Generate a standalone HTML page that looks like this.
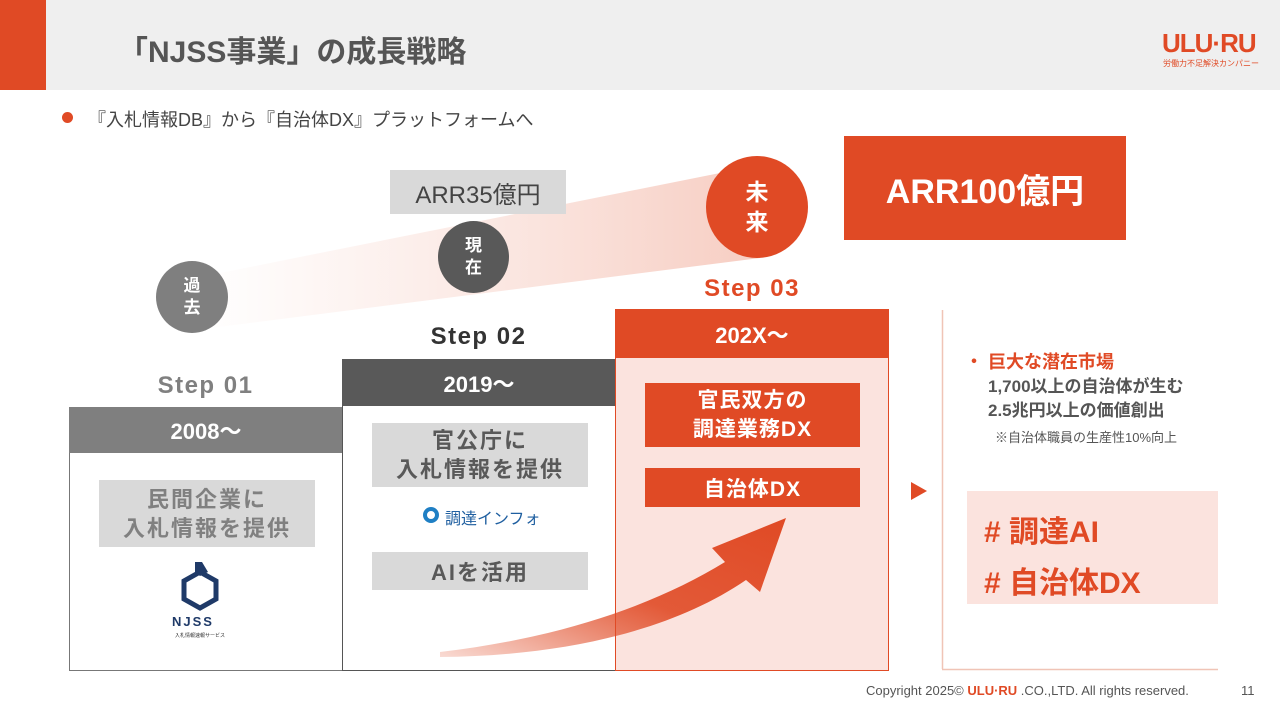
<!DOCTYPE html>
<html><head><meta charset="utf-8"><style>
*{margin:0;padding:0;box-sizing:border-box}
body{width:1280px;height:720px;position:relative;background:#fff;font-family:"Liberation Sans","Noto Sans CJK JP",sans-serif;overflow:hidden}
.a{position:absolute}
.c{display:flex;align-items:center;justify-content:center;text-align:center;font-weight:bold}
</style></head><body>
<div class="a" style="left:0;top:0;width:1280px;height:90px;background:#efefef"></div>
<div class="a" style="left:0;top:0;width:46px;height:90px;background:#e04a25"></div>
<div class="a" style="left:118px;top:27px;font-size:30px;color:#555;font-weight:bold">「NJSS事業」の成長戦略</div>
<div class="a" style="left:1162px;top:28px;font-size:26px;color:#e04a25;font-weight:900;letter-spacing:-1px">ULU·RU</div>
<div class="a" style="left:1163px;top:58px;font-size:8px;color:#e04a25">労働力不足解決カンパニー</div>
<div class="a" style="left:62px;top:112px;width:11px;height:11px;border-radius:50%;background:#e04a25"></div>
<div class="a" style="left:88px;top:106px;font-size:18px;color:#444">『入札情報DB』から『自治体DX』プラットフォームへ</div>

<svg class="a" style="left:0;top:0" width="1280" height="720">
<defs>
<linearGradient id="g1" x1="0" x2="1"><stop offset="0" stop-color="#f6c9bd" stop-opacity="0"/><stop offset="1" stop-color="#f3b8a8" stop-opacity="0.7"/></linearGradient>
<linearGradient id="g2" x1="0" x2="1" y1="1" y2="0"><stop offset="0" stop-color="#e04a25" stop-opacity="0.2"/><stop offset="0.5" stop-color="#e04a25" stop-opacity="0.9"/><stop offset="1" stop-color="#e04a25"/></linearGradient>
</defs>
<polygon points="195,278 760,165 760,258 195,330" fill="url(#g1)"/>
</svg>

<div class="a c" style="left:390px;top:170px;width:176px;height:44px;background:#d9d9d9;color:#444;font-size:24px;font-weight:normal">ARR35億円</div>
<div class="a c" style="left:844px;top:136px;width:282px;height:104px;background:#e04a25;color:#fff;font-size:34px">ARR100億円</div>
<div class="a c" style="left:156px;top:261px;width:72px;height:72px;border-radius:50%;background:#7f7f7f;color:#fff;font-size:17px;line-height:22px">過<br>去</div>
<div class="a c" style="left:438px;top:221px;width:71px;height:72px;border-radius:50%;background:#595959;color:#fff;font-size:17px;line-height:22px">現<br>在</div>
<div class="a c" style="left:706px;top:156px;width:102px;height:102px;border-radius:50%;background:#e04a25;color:#fff;font-size:23px;line-height:30px">未<br>来</div>

<div class="a c" style="left:69px;top:370px;width:273px;height:32px;color:#808080;font-size:24px;letter-spacing:1.5px">Step 01</div>
<div class="a c" style="left:342px;top:321px;width:273px;height:32px;color:#333;font-size:24px;letter-spacing:1.5px">Step 02</div>
<div class="a c" style="left:615px;top:273px;width:274px;height:32px;color:#e04a25;font-size:24px;letter-spacing:1.5px">Step 03</div>

<div class="a" style="left:69px;top:407px;width:274px;height:264px;border:1px solid #777;border-top:none"></div>
<div class="a c" style="left:69px;top:407px;width:274px;height:46px;background:#7f7f7f;color:#fff;font-size:22px">2008～</div>
<div class="a" style="left:342px;top:359px;width:274px;height:312px;border:1px solid #555;border-top:none"></div>
<div class="a c" style="left:342px;top:359px;width:274px;height:47px;background:#595959;color:#fff;font-size:22px">2019～</div>
<div class="a" style="left:615px;top:309px;width:274px;height:362px;background:#fbe3de;border:1px solid #e04a25"></div>
<div class="a c" style="left:615px;top:309px;width:274px;height:49px;background:#e04a25;color:#fff;font-size:22px">202X～</div>

<div class="a c" style="left:99px;top:480px;width:216px;height:67px;background:#d9d9d9;color:#808080;font-size:22px;line-height:29px;letter-spacing:2px">民間企業に<br>入札情報を提供</div>
<svg class="a" style="left:178px;top:560px" width="44" height="52"><polygon points="22,12 38,21 38,39 22,48 6,39 6,21" fill="none" stroke="#1f3a68" stroke-width="5"/><polygon points="17,2 24,2 30,12 22,16 17,12" fill="#1f3a68"/></svg>
<div class="a" style="left:172px;top:614px;font-size:13px;font-weight:bold;color:#1f3a68;letter-spacing:2px">NJSS</div>
<div class="a" style="left:175px;top:632px;font-size:5px;color:#333">入札情報速報サービス</div>

<div class="a c" style="left:372px;top:423px;width:216px;height:64px;background:#d9d9d9;color:#595959;font-size:22px;line-height:29px;letter-spacing:2px">官公庁に<br>入札情報を提供</div>
<div class="a" style="left:423px;top:507px;width:16px;height:16px;border-radius:50%;border:4px solid #1f7fc4"></div>
<div class="a" style="left:445px;top:505px;font-size:16px;color:#1f5fa0">調達インフォ</div>
<div class="a c" style="left:372px;top:552px;width:216px;height:38px;background:#d9d9d9;color:#595959;font-size:22px;letter-spacing:2px">AIを活用</div>

<div class="a c" style="left:645px;top:383px;width:215px;height:64px;background:#e04a25;color:#fff;font-size:21px;line-height:29px;letter-spacing:1px">官民双方の<br>調達業務DX</div>
<div class="a c" style="left:645px;top:468px;width:215px;height:39px;background:#e04a25;color:#fff;font-size:21px;letter-spacing:1px">自治体DX</div>

<svg class="a" style="left:0;top:0" width="1280" height="720">
<path d="M440,652 C560,638 655,605 725,562 L712,548 L786,518 L760,592 L746,580 C670,632 560,656 440,657 Z" fill="url(#g2)"/>
<polygon points="911,482 927,491 911,500" fill="#e04a25"/>
<line x1="942.5" y1="310" x2="942.5" y2="669" stroke="#f0c4b6" stroke-width="1.5"/>
<line x1="942" y1="669.5" x2="1218" y2="669.5" stroke="#f0c4b6" stroke-width="1.5"/>
</svg>

<div class="a" style="left:965px;top:348px;font-size:18px;color:#e04a25;font-weight:bold">・ 巨大な潜在市場</div>
<div class="a" style="left:988px;top:375px;font-size:17px;color:#555;font-weight:bold;line-height:24px">1,700以上の自治体が生む<br>2.5兆円以上の価値創出</div>
<div class="a" style="left:995px;top:427px;font-size:13px;color:#555">※自治体職員の生産性10%向上</div>
<div class="a" style="left:967px;top:491px;width:251px;height:113px;background:#fbe3de"></div>
<div class="a" style="left:984px;top:507px;font-size:30px;color:#e04a25;font-weight:bold">#&nbsp;調達AI</div>
<div class="a" style="left:984px;top:558px;font-size:30px;color:#e04a25;font-weight:bold">#&nbsp;自治体DX</div>

<div class="a" style="left:866px;top:683px;font-size:13px;color:#555">Copyright 2025© <span style="color:#e04a25;font-weight:900">ULU·RU</span> .CO.,LTD. All rights reserved.</div>
<div class="a" style="left:1241px;top:683px;font-size:13px;color:#555">11</div>
</body></html>
